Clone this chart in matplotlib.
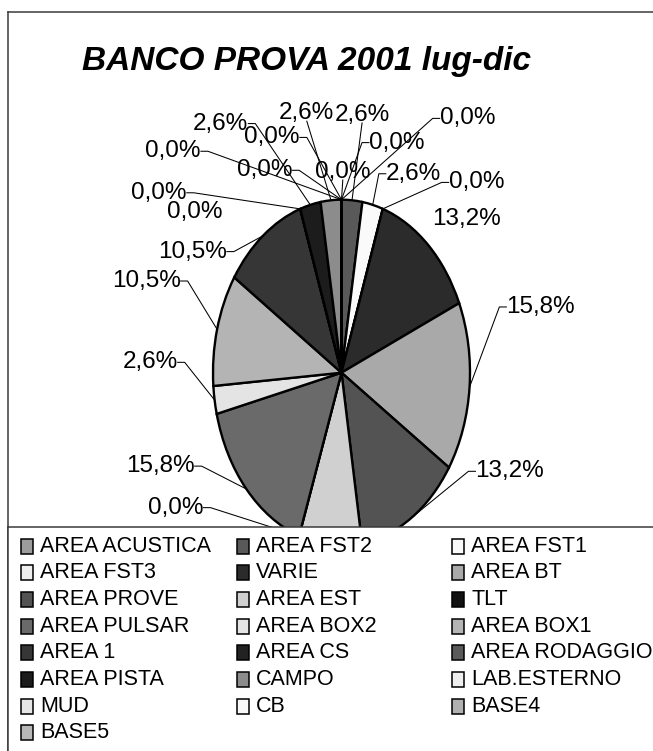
import numpy as np
import matplotlib
matplotlib.use("Agg")
import matplotlib.pyplot as plt
from matplotlib.patches import Rectangle
from matplotlib.lines import Line2D

# Categories in legend order (pie runs clockwise from 12 o'clock in the same order)
categories = ["AREA ACUSTICA", "AREA FST2", "AREA FST1", "AREA FST3", "VARIE",
              "AREA BT", "AREA PROVE", "AREA EST", "TLT", "AREA PULSAR",
              "AREA BOX2", "AREA BOX1", "AREA 1", "AREA CS", "AREA RODAGGIO",
              "AREA PISTA", "CAMPO", "LAB.ESTERNO", "MUD", "CB", "BASE4", "BASE5"]
shares = [0.0, 2.6, 2.6, 0.0, 13.2, 15.8, 13.2, 7.9, 0.0, 15.8,
          2.6, 10.5, 10.5, 0.0, 0.0, 2.6, 2.6, 0.0, 0.0, 0.0, 0.0, 0.0]
grays = ["#9c9c9c", "#595959", "#fafafa", "#eeeeee", "#2b2b2b",
         "#a9a9a9", "#535353", "#d0d0d0", "#111111", "#6a6a6a",
         "#e4e4e4", "#b4b4b4", "#363636", "#222222", "#5a5a5a",
         "#1c1c1c", "#8c8c8c", "#eeeeee", "#e6e6e6", "#f8f8f8", "#b0b0b0", "#b8b8b8"]

# label placement around the ellipse, in pie units (x: horizontal radius, y: vertical radius);
# None = label falls under the legend box and is not drawn
label_pos = [(0.01, 1.16), (0.16, 1.49), (0.56, 1.15), (1.05, 1.10), (0.97, 0.89),
             (1.55, 0.38), (1.31, -0.57), None, (-1.29, -0.78), (-1.41, -0.54),
             (-1.49, 0.06), (-1.52, 0.53), (-1.16, 0.70), (-1.14, 0.93), (-1.42, 1.04),
             (-0.94, 1.44), (-0.27, 1.50), (-1.31, 1.28), (-0.54, 1.36), (-0.60, 1.17),
             (0.43, 1.33), (0.98, 1.47)]
no_leader = {"VARIE", "AREA CS"}

W, H = 653, 751
sans = ["Liberation Sans", "DejaVu Sans"]

fig = plt.figure(figsize=(W / 100, H / 100), dpi=100)
fig.patch.set_facecolor("white")

# pie axes: unit circle stretched to the ellipse
cx, cy, rx, ry = 341.5, 372.7, 128.5, 173.0
ax = fig.add_axes([(cx - rx) / W, 1 - (cy + ry) / H, 2 * rx / W, 2 * ry / H])
ax.pie(shares, colors=grays, startangle=90, counterclock=False, radius=1,
       wedgeprops=dict(edgecolor="black", linewidth=1.7))
ax.set_xlim(-1, 1)
ax.set_ylim(-1, 1)
ax.set_aspect("auto")
ax.axis("off")

total = sum(shares)
frac = np.array(shares) / total
ends = np.cumsum(frac)
mids = ends - frac / 2

texts = {}
for i, name in enumerate(categories):
    if label_pos[i] is None:
        continue
    pct = f"{frac[i] * 100:.1f}".replace(".", ",") + "%"
    lx, ly = label_pos[i]
    texts[i] = ax.text(lx, ly, pct, ha="center", va="center", fontsize=17.5,
                       family=sans, color="black", zorder=4)

# leader lines from each label to the edge of its slice
fig.canvas.draw()
renderer = fig.canvas.get_renderer()
inv = ax.transData.inverted()
for i, t in texts.items():
    if categories[i] in no_leader:
        continue
    ang = 2 * np.pi * mids[i]
    tx, ty = ax.transData.transform((np.sin(ang), np.cos(ang)))
    bb = t.get_window_extent(renderer)
    ym = (bb.y0 + bb.y1) / 2
    if tx > bb.x1:
        pts = [(bb.x1, ym), (bb.x1 + 7, ym), (tx, ty)]
    elif tx < bb.x0:
        pts = [(bb.x0, ym), (bb.x0 - 7, ym), (tx, ty)]
    else:
        pts = [((bb.x0 + bb.x1) / 2, bb.y0 + 3), (tx, ty)]
    d = inv.transform(pts)
    ax.plot(d[:, 0], d[:, 1], color="black", lw=0.75, clip_on=False, zorder=3)

# title
fig.text(307 / W, 1 - 70 / H, "BANCO PROVA 2001 lug-dic", ha="center", va="baseline",
         fontsize=24, fontweight="bold", fontstyle="italic", family=sans)

# legend box over the lower part of the pie
lg = fig.add_axes([8 / W, 0, 1 - 8 / W, (H - 527) / H])
lg.set_zorder(5)
lg.set_facecolor("white")
lg.set_xlim(8, W)
lg.set_ylim(H, 527)
lg.set_xticks([])
lg.set_yticks([])
for side in ["right", "bottom"]:
    lg.spines[side].set_visible(False)
for side in ["left", "top"]:
    lg.spines[side].set_color("#3a3a3a")
    lg.spines[side].set_linewidth(1.1)

col_x = [21, 237, 452]
for i, name in enumerate(categories):
    row, col = divmod(i, 3)
    mx = col_x[col]
    my = 546 + 26.7 * row
    lg.add_patch(Rectangle((mx, my - 7.5), 12, 15, facecolor=grays[i],
                           edgecolor="black", linewidth=1.1))
    lg.text(mx + 19, my, name, ha="left", va="center", fontsize=15.5,
            family=sans, color="black")

# outer chart frame (left and top edges)
fig.add_artist(Line2D([8 / W, 8 / W], [0, 1 - 12 / H], color="#3a3a3a", lw=1.1))
fig.add_artist(Line2D([8 / W, 1], [1 - 12 / H, 1 - 12 / H], color="#3a3a3a", lw=1.1))

fig.savefig("out.png", dpi=100, facecolor="white")
